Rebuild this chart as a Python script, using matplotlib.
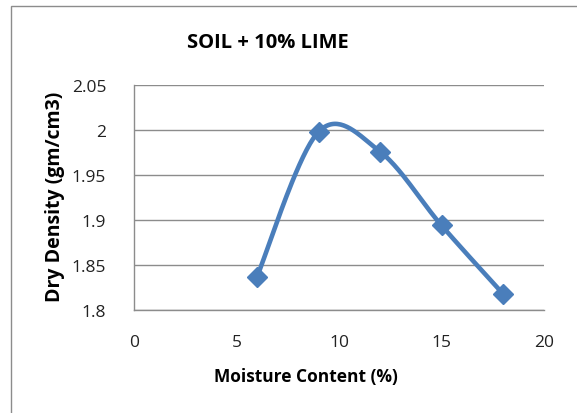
import numpy as np
import matplotlib.pyplot as plt
from matplotlib.patches import Rectangle
from matplotlib.ticker import FuncFormatter

# moisture content (%) vs dry density (gm/cm3)
moisture = [6, 9, 12, 15, 18]
density = [1.837, 1.998, 1.976, 1.894, 1.818]

title = "SOIL + 10% LIME"
xlabel = "Moisture Content (%)"
ylabel = "Dry Density (gm/cm3)"
xticks = [0, 5, 10, 15, 20]
yticks = [1.8, 1.85, 1.9, 1.95, 2.0, 2.05]

plt.rcParams['font.family'] = ['Open Sans', 'DejaVu Sans']

W, H = 577, 414
fig = plt.figure(figsize=(W / 100, H / 100), dpi=100)
fig.patch.set_facecolor('white')

# chart border (cut off at right and bottom like the screenshot)
fig.patches.append(Rectangle((11 / W, -0.05), 1.2, 1 - 7 / H + 0.05, transform=fig.transFigure,
                             fill=False, edgecolor='#8c8c8c', linewidth=1.0))

ax = fig.add_axes([134 / W, 1 - 311 / H, 410 / W, 225 / H])
ax.set_xlim(0, 20)
ax.set_ylim(1.8, 2.05)
ax.set_xticks(xticks)
ax.set_yticks(yticks)
ax.yaxis.set_major_formatter(FuncFormatter(lambda v, p: '%g' % round(v, 2)))
ax.tick_params(length=0, labelsize=12.5, colors='#222222', pad=20)
ax.tick_params(axis='x', pad=17)
ax.grid(axis='y', color='#8c8c8c', linewidth=1.0)
ax.set_axisbelow(True)
for s in ['top', 'right']:
    ax.spines[s].set_visible(False)
for s in ['left', 'bottom']:
    ax.spines[s].set_color('#8c8c8c')
    ax.spines[s].set_linewidth(1.0)

# Excel-like smoothing: Catmull-Rom bezier in pixel space
pts = ax.transData.transform(np.column_stack([moisture, density]))
n = len(pts)
curve = []
for i in range(n - 1):
    p0 = pts[max(i - 1, 0)]
    p1 = pts[i]
    p2 = pts[i + 1]
    p3 = pts[min(i + 2, n - 1)]
    c1 = p1 + (p2 - p0) / 6
    c2 = p2 - (p3 - p1) / 6
    t = np.linspace(0, 1, 40)[:, None]
    seg = (1 - t) ** 3 * p1 + 3 * (1 - t) ** 2 * t * c1 + 3 * (1 - t) * t ** 2 * c2 + t ** 3 * p2
    curve.append(seg)
curve = ax.transData.inverted().transform(np.vstack(curve))

ax.plot(curve[:, 0], curve[:, 1], color='#4a7ebb', linewidth=3.3, solid_capstyle='round', zorder=3)
ax.plot(moisture, density, linestyle='none', marker='D', markersize=10.5,
        color='#4a7ebb', zorder=4)

fig.text(268 / W, 1 - 43 / H, title, ha='center', va='center', fontsize=14.5, fontweight='bold')
fig.text(306 / W, 1 - 377 / H, xlabel, ha='center', va='center', fontsize=12.5, fontweight='bold')
fig.text(55 / W, 1 - 197 / H, ylabel, ha='center', va='center', rotation=90,
         fontsize=14, fontweight='bold')

fig.savefig('out.png', dpi=100)
